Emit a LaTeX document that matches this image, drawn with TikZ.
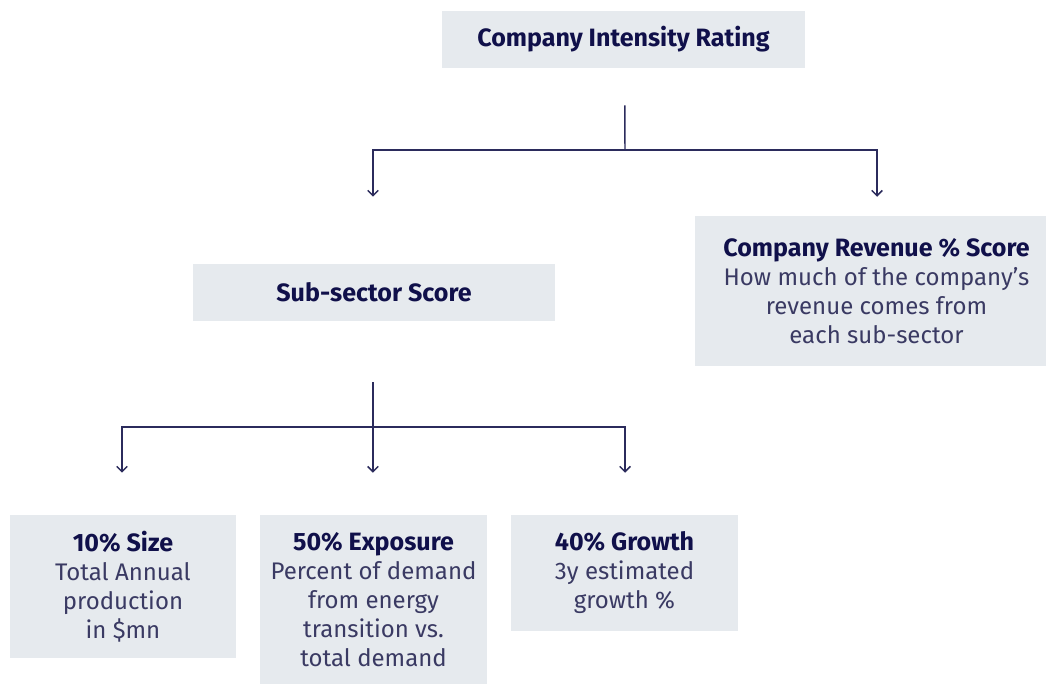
\documentclass[tikz,border=0pt]{standalone}
\usepackage{fontspec}
\setmainfont{Fira Sans}
\usetikzlibrary{arrows.meta}

\definecolor{boxfill}{HTML}{E6EAEE}
\definecolor{headnavy}{HTML}{10104A}
\definecolor{linknavy}{HTML}{2B2B5C}
\definecolor{textnavy}{HTML}{3A3A63}

\newcommand{\head}[1]{{\fontsize{18.8}{21.75}\selectfont\bfseries\color{headnavy}#1}}

\begin{document}
\begin{tikzpicture}[x=0.75pt,y=-0.75pt,
	box/.style={fill=boxfill,inner sep=0pt,align=center,text=textnavy,
		font=\fontsize{18}{21.75}\selectfont},
	stem/.style={draw=linknavy,line width=1.1pt},
	link/.style={stem,-{Straight Barb[length=4pt,width=8pt]}}]

\useasboundingbox (0,0) rectangle (1046,684);

%
% Ebene 1
%
\node[box,minimum width=272.25pt,minimum height=42.75pt] (rating) at (623.5,39.5)
	{\head{Company Intensity Rating}};

%
% Ebene 2
%
\node[box,minimum width=271.5pt,minimum height=42.75pt] (subsector) at (374,292.5)
	{\head{Sub-sector Score}};
\node[box,minimum width=272.25pt,minimum height=111.75pt] (revenue) at (876.5,291)
	{\head{Company Revenue \% Score}\\How much of the company’s\\revenue comes from\\each sub-sector};

%
% Ebene 3
%
\node[box,minimum width=169.5pt,minimum height=107.25pt] (size) at (123,586.5)
	{\head{10\% Size}\\Total Annual\\production\\in \$mn};
\node[box,minimum width=170.25pt,minimum height=126.75pt] (exposure) at (373.5,599.5)
	{\head{50\% Exposure}\\Percent of demand\\from energy\\transition vs.\\total demand};
\node[box,minimum width=170.25pt,minimum height=87pt] (growth) at (624.5,573)
	{\head{40\% Growth}\\3y estimated\\growth \%};

%
% Verbindungen
%
\coordinate (split1) at (625,150);
\coordinate (split2) at (373,427);

\draw[stem] ([xshift=1pt,yshift=-27.75pt]rating.south) -- (split1);
\draw[link,shorten >=50.25pt] (split1) -| ([xshift=-0.75pt]subsector.north);
\draw[link,shorten >=14.6pt] (split1) -| ([xshift=0.4pt]revenue.north);

\draw[stem] ([xshift=-0.75pt,yshift=-45.75pt]subsector.south) -- (split2);
\draw[link,shorten >=31.5pt] (split2) -| ([xshift=-0.75pt]size.north);
\draw[link,shorten >=31.5pt] (split2) -| ([xshift=-0.4pt]exposure.north);
\draw[link,shorten >=31.5pt] (split2) -| ([xshift=0.4pt]growth.north);

\end{tikzpicture}
\end{document}
